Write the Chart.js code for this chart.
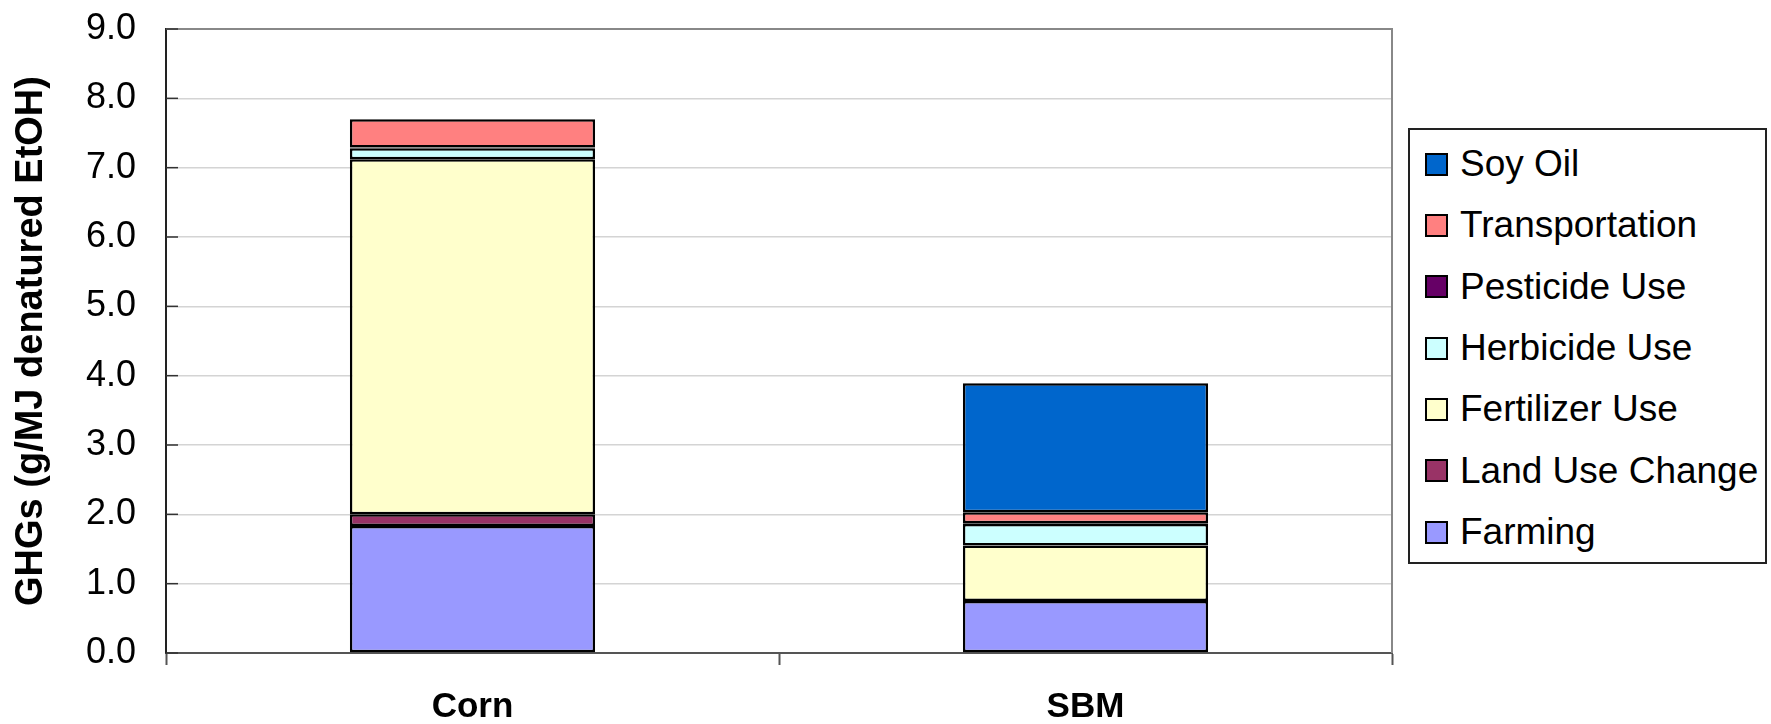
<!DOCTYPE html>
<html>
<head>
<meta charset="utf-8">
<script src="https://cdn.jsdelivr.net/npm/chart.js@4/dist/chart.umd.min.js"></script>
<style>
  html, body { margin: 0; padding: 0; background: #fff; }
  #wrap { position: relative; width: 1771px; height: 724px; }
  #legend {
    position: absolute; left: 1408px; top: 128px; width: 355px; height: 432px;
    border: 2px solid #222; background: #fff;
    font-family: "Liberation Sans", Arial, sans-serif; font-size: 37px; color: #000;
  }
  #legend .item { position: absolute; left: 15px; height: 40px; line-height: 40px; white-space: nowrap; }
  #legend .box {
    display: inline-block; width: 19px; height: 19px; border: 2px solid #000;
    vertical-align: middle; margin-right: 12px; position: relative; top: -2px;
  }
</style>
</head>
<body>
<div id="wrap">
  <canvas id="myChart" width="1771" height="724"></canvas>
  <div id="legend"></div>
</div>
<script>
// categories and series (g/MJ denatured EtOH)
const categories = ['Corn', 'SBM'];
const farming = [1.83, 0.75];
const landUseChange = [0.17, null];
const fertilizerUse = [5.12, 0.80];
const herbicideUse = [0.16, 0.31];
const pesticideUse = [0.01, 0.01];
const transportation = [0.41, 0.16];
const soyOil = [null, 1.86];
const yTicks = [0, 1, 2, 3, 4, 5, 6, 7, 8, 9];

const seriesNames = ['Farming', 'Land Use Change', 'Fertilizer Use', 'Herbicide Use', 'Pesticide Use', 'Transportation', 'Soy Oil'];
const seriesData = [farming, landUseChange, fertilizerUse, herbicideUse, pesticideUse, transportation, soyOil];
const seriesColors = ['#9999FF', '#993366', '#FFFFCC', '#CCFFFF', '#660066', '#FF8080', '#0066CC'];

const FONT = '"Liberation Sans", Arial, sans-serif';

/* cadre gris haut/droite + petits traits internes sur l'axe Y */
const framePlugin = {
    id: 'frame',
    afterDraw(chart) {
        const ctx = chart.ctx;
        const a = chart.chartArea;
        const y = chart.scales.y;
        ctx.save();
        ctx.strokeStyle = '#888';
        ctx.lineWidth = 2;
        ctx.beginPath();
        ctx.moveTo(a.left, a.top);
        ctx.lineTo(a.right, a.top);
        ctx.lineTo(a.right, a.bottom);
        ctx.stroke();
        ctx.strokeStyle = '#333';
        ctx.lineWidth = 1.5;
        yTicks.forEach(function(v) {
            const py = y.getPixelForValue(v);
            ctx.beginPath();
            ctx.moveTo(a.left, py);
            ctx.lineTo(a.left + 12, py);
            ctx.stroke();
        });
        ctx.restore();
    }
};

const ctx = document.getElementById('myChart').getContext('2d');
const myChart = new Chart(ctx, {
    type: 'bar',
    data: {
        labels: categories,
        datasets: seriesNames.map(function(name, i) {
            return {
                label: name,
                data: seriesData[i],
                backgroundColor: seriesColors[i],
                borderColor: '#000',
                borderWidth: 2.5,
                borderSkipped: false,
                barPercentage: 0.4,
                categoryPercentage: 1.0
            };
        })
    },
    options: {
        responsive: false,
        animation: false,
        devicePixelRatio: 1,
        layout: { padding: { top: 29, right: 379, left: 0, bottom: 0 } },
        plugins: {
            legend: { display: false },
            tooltip: { enabled: false }
        },
        scales: {
            x: {
                stacked: true,
                afterFit: function(scale) {
                    scale.height = 71;
                    scale.paddingLeft = 0;
                    scale.paddingRight = 0;
                },
                grid: {
                    offset: true,
                    drawOnChartArea: false,
                    drawTicks: true,
                    tickLength: 12,
                    tickColor: '#555',
                    tickWidth: 2
                },
                border: { color: '#555', width: 2 },
                ticks: {
                    color: '#000',
                    padding: 21,
                    font: { family: FONT, size: 35, weight: 'bold' }
                }
            },
            y: {
                stacked: true,
                min: 0,
                max: 9,
                afterFit: function(scale) {
                    scale.width = 166;
                    scale.paddingTop = 0;
                    scale.paddingBottom = 0;
                },
                afterBuildTicks: function(scale) {
                    scale.ticks = yTicks.map(function(v) { return { value: v }; });
                },
                grid: {
                    color: '#d4d4d4',
                    lineWidth: 1.5,
                    drawTicks: false
                },
                border: { color: '#222', width: 2 },
                ticks: {
                    color: '#000',
                    padding: 30,
                    font: { family: FONT, size: 36 },
                    callback: function(v) { return Number(v).toFixed(1); }
                },
                title: {
                    display: true,
                    text: 'GHGs (g/MJ denatured EtOH)',
                    color: '#000',
                    padding: { top: 9, bottom: 4 },
                    font: { family: FONT, size: 38, weight: 'bold' }
                }
            }
        }
    },
    plugins: [framePlugin]
});

// légende HTML, ordre inverse comme dans l'original
const legendEl = document.getElementById('legend');
for (let i = seriesNames.length - 1, row = 0; i >= 0; i--, row++) {
    const item = document.createElement('div');
    item.className = 'item';
    item.style.top = (14 + row * 61.3) + 'px';
    const box = document.createElement('span');
    box.className = 'box';
    box.style.background = seriesColors[i];
    item.appendChild(box);
    item.appendChild(document.createTextNode(seriesNames[i]));
    legendEl.appendChild(item);
}
</script>
</body>
</html>
